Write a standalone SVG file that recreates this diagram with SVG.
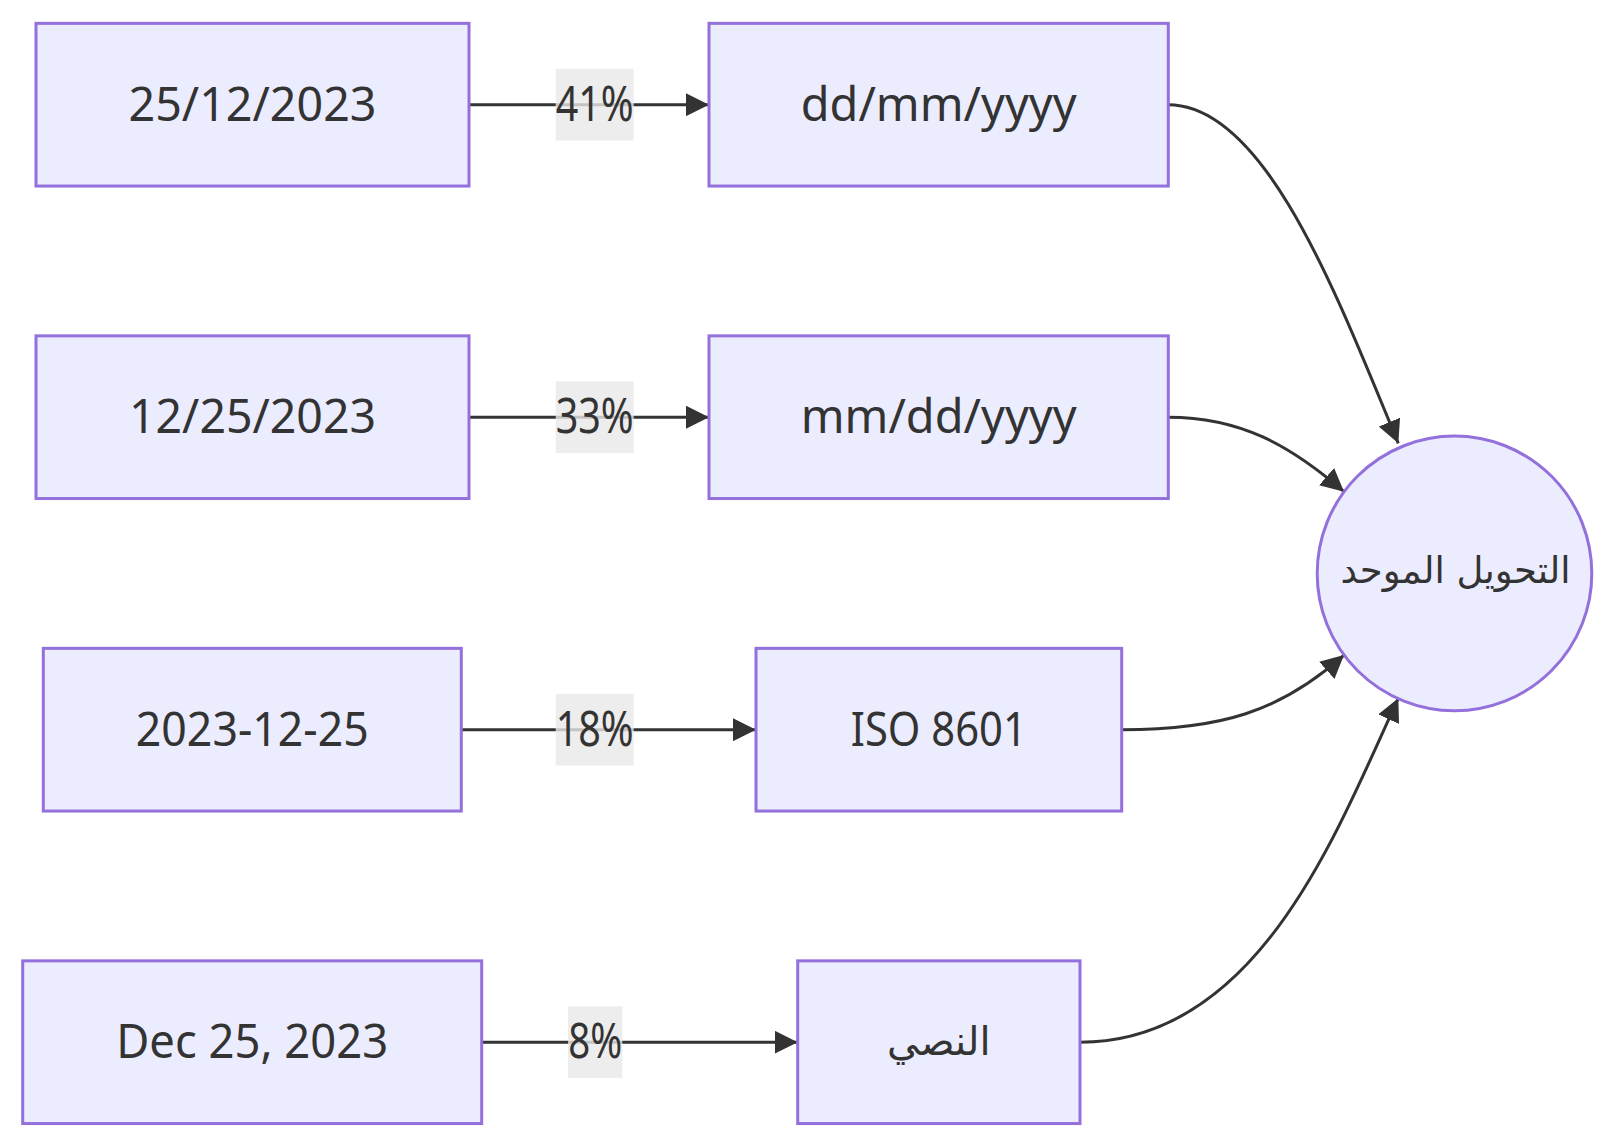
<svg xmlns="http://www.w3.org/2000/svg" width="1616" height="1146" viewBox="0 0 1616 1146">
<style>
.node rect, .node circle { fill: #ECECFF; stroke: #9370DB; stroke-width: 3; }
.lbl { font-family: "Noto Sans", "Open Sans", sans-serif; font-size: 47px; fill: #333333; text-anchor: middle; }
.ar { font-family: "DejaVu Sans", "Noto Sans", sans-serif; font-size: 40px; fill: #333333; text-anchor: middle; }
.edge { fill: none; stroke: #333333; stroke-width: 3; marker-end: url(#arrow); }
.elbg { fill: #e8e8e8; fill-opacity: 0.8; }
.eltxt { font-family: "Noto Sans", "Open Sans", sans-serif; font-size: 49px; fill: #333333; text-anchor: middle; }
</style>
<defs>
<marker id="arrow" viewBox="0 0 10 10" refX="10" refY="5" markerUnits="userSpaceOnUse" markerWidth="23" markerHeight="23" orient="auto">
<path d="M0,0 L10,5 L0,10 z" fill="#333333"/>
</marker>
</defs>
<rect width="1616" height="1146" fill="#ffffff"/>
<g id="connectors">
<path class="edge" d="M469,104.7 L709,104.7"/>
<path class="edge" d="M469,417.2 L709,417.2"/>
<path class="edge" d="M461.3,729.7 L756,729.7"/>
<path class="edge" d="M481.7,1042.2 L797.7,1042.2"/>
<path class="edge" d="M1168.3,104.7 C1266.3,104.7 1338.3,299.3 1398.3,443.3"/>
<path class="edge" d="M1168.3,417.2 C1240,417.2 1290,445 1344,491.7"/>
<path class="edge" d="M1121.7,729.7 C1220,729.7 1280,712 1344,655.1"/>
<path class="edge" d="M1080,1042.2 C1260,1042.2 1338.3,827.3 1398.3,698.3"/>
</g>
<g id="edge-labels">
<g id="label-41">
<rect class="elbg" x="555.7" y="68.85" width="78" height="71.7"/>
<text class="eltxt" x="594.7" y="120.7" textLength="78" lengthAdjust="spacingAndGlyphs">41%</text>
</g>
<g id="label-33">
<rect class="elbg" x="555.7" y="381.35" width="78" height="71.7"/>
<text class="eltxt" x="594.7" y="433.2" textLength="78" lengthAdjust="spacingAndGlyphs">33%</text>
</g>
<g id="label-18">
<rect class="elbg" x="555.7" y="693.85" width="78" height="71.7"/>
<text class="eltxt" x="594.7" y="745.7" textLength="78" lengthAdjust="spacingAndGlyphs">18%</text>
</g>
<g id="label-8">
<rect class="elbg" x="568" y="1006.35" width="54.3" height="71.7"/>
<text class="eltxt" x="595.15" y="1058.2" textLength="54" lengthAdjust="spacingAndGlyphs">8%</text>
</g>
</g>
<g id="node-A1" class="node">
<rect x="36" y="23.35" width="433" height="162.7"/>
<text class="lbl" x="252.5" y="120.7" textLength="248" lengthAdjust="spacingAndGlyphs">25/12/2023</text>
</g>
<g id="node-A2" class="node">
<rect x="36" y="335.85" width="433" height="162.7"/>
<text class="lbl" x="252.5" y="433.2" textLength="247" lengthAdjust="spacingAndGlyphs">12/25/2023</text>
</g>
<g id="node-A3" class="node">
<rect x="43.3" y="648.35" width="418" height="162.7"/>
<text class="lbl" x="252.3" y="745.7" textLength="233" lengthAdjust="spacingAndGlyphs">2023-12-25</text>
</g>
<g id="node-A4" class="node">
<rect x="22.7" y="960.85" width="459" height="162.7"/>
<text class="lbl" x="252.2" y="1058.2" textLength="272" lengthAdjust="spacingAndGlyphs">Dec 25, 2023</text>
</g>
<g id="node-B1" class="node">
<rect x="709" y="23.35" width="459.3" height="162.7"/>
<text class="lbl" x="938.7" y="120.7" textLength="276" lengthAdjust="spacingAndGlyphs">dd/mm/yyyy</text>
</g>
<g id="node-B2" class="node">
<rect x="709" y="335.85" width="459.3" height="162.7"/>
<text class="lbl" x="938.7" y="433.2" textLength="276" lengthAdjust="spacingAndGlyphs">mm/dd/yyyy</text>
</g>
<g id="node-B3" class="node">
<rect x="756" y="648.35" width="365.7" height="162.7"/>
<text class="lbl" x="938.8" y="745.7" textLength="176" lengthAdjust="spacingAndGlyphs">ISO 8601</text>
</g>
<g id="node-B4" class="node">
<rect x="797.7" y="960.85" width="282.3" height="162.7"/>
<text class="ar" x="938.8" y="1055" direction="rtl">النصي</text>
</g>
<g id="node-C" class="node">
<circle cx="1454.5" cy="573.4" r="137.3"/>
<text class="ar" x="1455.5" y="583" direction="rtl" style="font-size:37px">التحويل الموحد</text>
</g>
</svg>
